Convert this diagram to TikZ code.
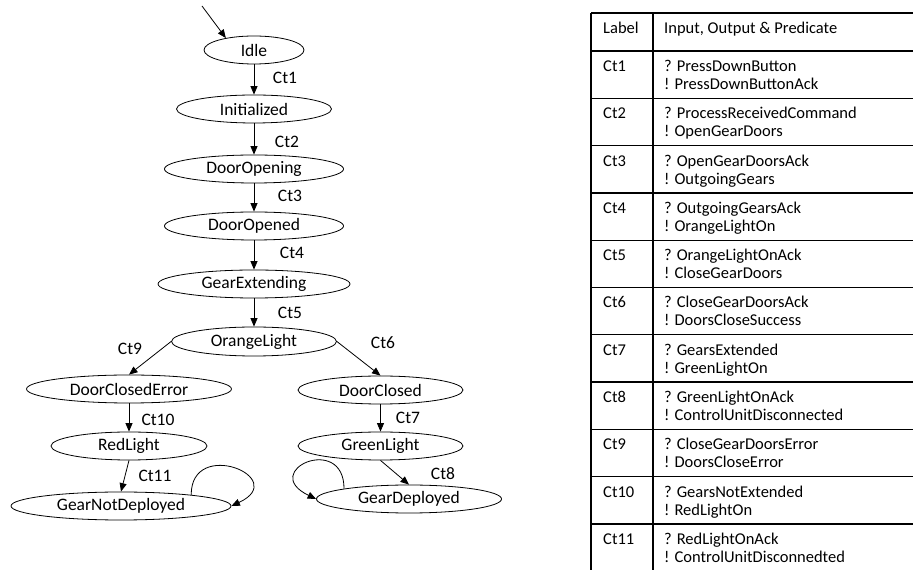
\documentclass[tikz,border=0pt]{standalone}
\usepackage{fontspec}
\setmainfont{Carlito}
\usetikzlibrary{shapes.geometric,arrows.meta}

\tikzset{
  state/.style={ellipse, draw, line width=0.8pt, inner sep=0pt,
    minimum height=28pt, font=\fontsize{17.5}{18}\selectfont},
  trans/.style={line width=0.8pt, -{Triangle[length=8.5pt,width=7pt]}},
  lbl/.style={inner sep=0pt, font=\fontsize{17.5}{18}\selectfont},
  cell/.style={inner sep=0pt, font=\fontsize{16.5}{18}\selectfont},
  rule/.style={line width=1.3pt}
}

\begin{document}
\begin{tikzpicture}[x=1pt,y=1pt]
\useasboundingbox (0,0) rectangle (913,570);

% states
\node[state, minimum width=100pt] (idle) at (254,520) {Idle};
\node[state, minimum width=155pt] (init) at (254,461) {Initialized};
\node[state, minimum width=179pt] (dopening) at (254,401) {DoorOpening};
\node[state, minimum width=179pt] (dopened) at (254,344) {DoorOpened};
\node[state, minimum width=192pt] (gext) at (254,286) {GearExtending};
\node[state, minimum width=165pt, minimum height=29pt] (orange) at (254,228.5) {OrangeLight};
\node[state, minimum width=205pt] (dcerr) at (129,181) {DoorClosedError};
\node[state, minimum width=165pt] (dclosed) at (380.5,180) {DoorClosed};
\node[state, minimum width=156pt] (red) at (129,124) {RedLight};
\node[state, minimum width=165pt] (green) at (380.5,124) {GreenLight};
\node[state, minimum width=220pt] (gnd) at (121,64) {GearNotDeployed};
\node[state, minimum width=185pt] (gd) at (409,71) {GearDeployed};

% initial transition
\coordinate (start) at (202,564);
\draw[trans] (start) -- (idle.157);

% transitions
\draw[trans] (idle) -- (init);
\draw[trans] (init) -- (dopening);
\draw[trans] (dopening) -- (dopened);
\draw[trans] (dopened) -- (gext);
\draw[trans] (gext) -- (orange);
\draw[trans] (orange.west) -- (dcerr.north);
\draw[trans] (orange.east) -- (dclosed.north);
\draw[trans] (dcerr) -- (red);
\draw[trans] (dclosed) -- (green);
\draw[trans] (red.south) -- (gnd.north);
\draw[trans] (green.south) -- (gd.north);
\draw[trans] (gnd.9) .. controls +(0,58) and +(60,28) .. (gnd.east);
\draw[trans] (gd.171) .. controls +(0,56) and +(-58,28) .. (gd.west);

% transition labels
\node[lbl] (c1) at (285,492) {Ct1};
\node[lbl] (c2) at (287,428) {Ct2};
\node[lbl] (c3) at (290,374) {Ct3};
\node[lbl] (c4) at (292,317) {Ct4};
\node[lbl] (c5) at (290,257) {Ct5};
\node[lbl] (c9) at (130,221) {Ct9};
\node[lbl] (c6) at (383,227) {Ct6};
\node[lbl] (c10) at (158,150) {Ct10};
\node[lbl] (c7) at (408,152) {Ct7};
\node[lbl] (c11) at (155,94) {Ct11};
\node[lbl] (c8) at (443,96) {Ct8};

% label table
\draw[rule] (591,557) -- (913,557);
\draw[rule] (591,557) -- (591,0);
\draw[rule] (653,557) -- (653,0);
\node[cell, anchor=base west] (hlabel) at (603,536.5) {Label};
\node[cell, anchor=base west] (hio) at (664,536.5) {Input, Output \& Predicate};
\foreach \i/\q/\e [count=\k from 0] in {
  1/PressDownButton/PressDownButtonAck,
  2/ProcessReceivedCommand/OpenGearDoors,
  3/OpenGearDoorsAck/OutgoingGears,
  4/OutgoingGearsAck/OrangeLightOn,
  5/OrangeLightOnAck/CloseGearDoors,
  6/CloseGearDoorsAck/DoorsCloseSuccess,
  7/GearsExtended/GreenLightOn,
  8/GreenLightOnAck/ControlUnitDisconnected,
  9/CloseGearDoorsError/DoorsCloseError,
  10/GearsNotExtended/RedLightOn,
  11/RedLightOnAck/ControlUnitDisconnedted}{
  \pgfmathsetmacro\rowtop{519-47.3*\k}
  \draw[rule] (591,\rowtop) -- (913,\rowtop);
  \node[cell, anchor=base west] (l\i) at (603,\rowtop-20.5) {Ct\i};
  \node[cell, anchor=base west] (q\i) at (664,\rowtop-20.5) {? \q};
  \node[cell, anchor=base west] (e\i) at (664,\rowtop-38.5) {! \e};
}
\end{tikzpicture}
\end{document}
